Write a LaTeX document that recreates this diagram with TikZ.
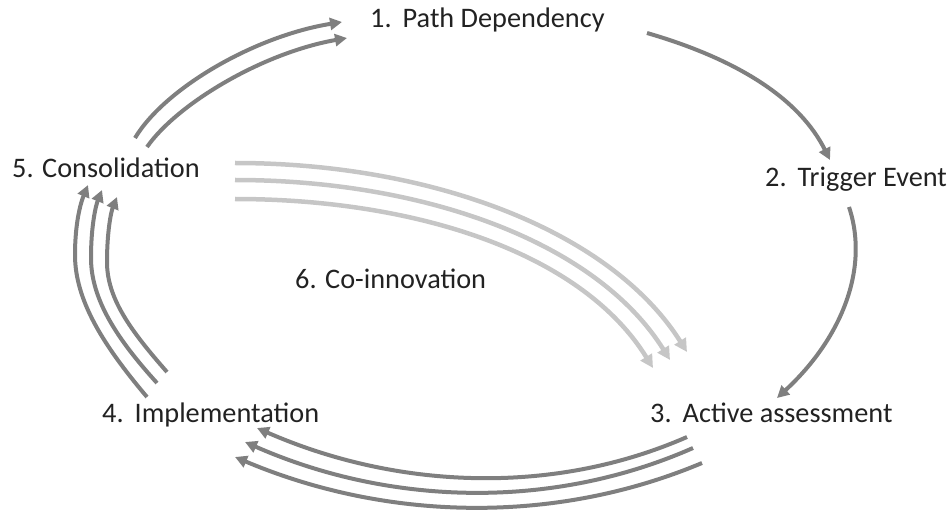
\documentclass[tikz,border=0pt]{standalone}
\usepackage{fontspec}
\setmainfont{Carlito}
\usetikzlibrary{arrows.meta}
\definecolor{flow}{HTML}{7F7F7F}
\definecolor{coflow}{HTML}{C6C6C6}
\definecolor{ink}{HTML}{222222}
\newcommand{\numgap}{\hspace{11pt}}
\begin{document}
\begin{tikzpicture}[x=1pt,y=-1pt,
  stage/.style={text=ink,font=\fontsize{28.3}{33}\selectfont,inner sep=0pt,anchor=base west},
  flowarrow/.style={draw=flow,line width=4pt,-{Triangle[length=12pt,width=12pt]}},
  coarrow/.style={draw=coflow,line width=4.5pt,-{Triangle[length=13pt,width=13pt]}}]
\useasboundingbox (0,0) rectangle (951,513);

% stage labels
\node[stage] (s1) at (370,28)  {1.\numgap Path Dependency};
\node[stage] (s2) at (765,187) {2.\numgap Trigger Event};
\node[stage] (s3) at (650,422) {3.\numgap Active assessment};
\node[stage] (s4) at (102,422) {4.\numgap Implementation};
\node[stage] (s5) at (12,178)  {5. Consolidation};
\node[stage] (s6) at (295,288) {6. Co-innovation};

% arrow end points
\coordinate (a12s) at (647,33);  \coordinate (a12e) at (830,160);
\coordinate (a23s) at (849,207); \coordinate (a23e) at (777,398);
\coordinate (a34s1) at (687,437); \coordinate (a34e1) at (257,428);
\coordinate (a34s2) at (693,448); \coordinate (a34e2) at (245,442);
\coordinate (a34s3) at (702,463); \coordinate (a34e3) at (235,457);
\coordinate (a45s1) at (147,397); \coordinate (a45e1) at (88,185);
\coordinate (a45s2) at (157,383); \coordinate (a45e2) at (102,190);
\coordinate (a45s3) at (167,372); \coordinate (a45e3) at (117,197);
\coordinate (a51s1) at (135,138); \coordinate (a51e1) at (342,22);
\coordinate (a51s2) at (147,147); \coordinate (a51e2) at (347,38);
\coordinate (a6s1) at (235,163); \coordinate (a6e1) at (687,352);
\coordinate (a6s2) at (235,180); \coordinate (a6e2) at (670,360);
\coordinate (a6s3) at (235,199); \coordinate (a6e3) at (653,368);

% 1 -> 2 -> 3
\draw[flowarrow] (a12s) .. controls (740,60) and (800,100) .. (a12e);
\draw[flowarrow] (a23s) .. controls (870,270) and (840,340) .. (a23e);

% 3 -> 4
\draw[flowarrow] (a34s1) .. controls (550,497) and (394,488) .. (a34e1);
\draw[flowarrow] (a34s2) .. controls (550,511) and (388,505) .. (a34e2);
\draw[flowarrow] (a34s3) .. controls (552,526) and (384,520) .. (a34e3);

% 4 -> 5
\draw[flowarrow] (a45s1) .. controls (103,345) and (75,300) .. (75,255)
  .. controls (75,222) and (81,202) .. (a45e1);
\draw[flowarrow] (a45s2) .. controls (118,340) and (91,300) .. (91,258)
  .. controls (91,225) and (96,205) .. (a45e2);
\draw[flowarrow] (a45s3) .. controls (130,330) and (107,298) .. (107,262)
  .. controls (107,232) and (111,212) .. (a45e3);

% 5 -> 1
\draw[flowarrow] (a51s1) .. controls (165,88) and (255,36) .. (a51e1);
\draw[flowarrow] (a51s2) .. controls (177,104) and (262,53) .. (a51e2);

% 5 -> 3 (co-innovation)
\draw[coarrow] (a6s1) .. controls (430,163) and (610,230) .. (a6e1);
\draw[coarrow] (a6s2) .. controls (420,180) and (595,240) .. (a6e2);
\draw[coarrow] (a6s3) .. controls (410,199) and (580,250) .. (a6e3);
\end{tikzpicture}
\end{document}
